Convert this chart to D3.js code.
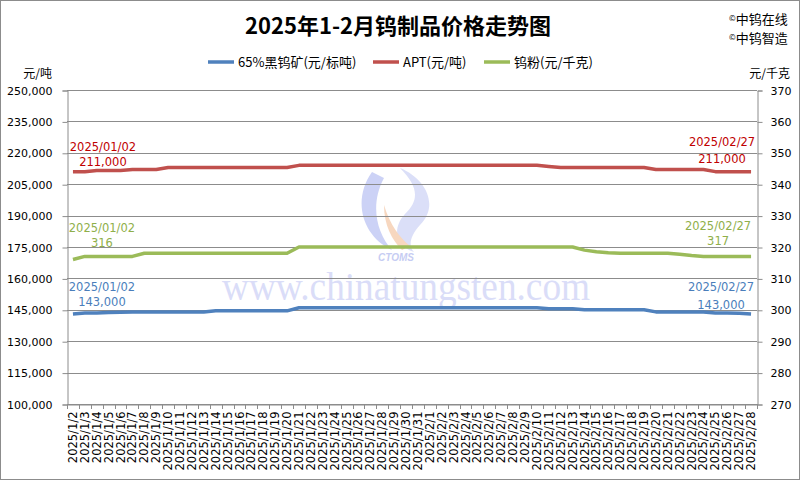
<!DOCTYPE html>
<html><head><meta charset="utf-8">
<script src="https://cdn.jsdelivr.net/npm/d3@7/dist/d3.min.js"></script>
<style>
html,body{margin:0;padding:0;background:#fff;}
svg{display:block;}
</style>
</head><body>
<svg id="chart" width="800" height="480"></svg>
<script>
const categories = [
"2025/1/2","2025/1/3","2025/1/4","2025/1/5","2025/1/6","2025/1/7","2025/1/8","2025/1/9","2025/1/10",
"2025/1/11","2025/1/12","2025/1/13","2025/1/14","2025/1/15","2025/1/16","2025/1/17","2025/1/18","2025/1/19",
"2025/1/20","2025/1/21","2025/1/22","2025/1/23","2025/1/24","2025/1/25","2025/1/26","2025/1/27","2025/1/28",
"2025/1/29","2025/1/30","2025/1/31",
"2025/2/1","2025/2/2","2025/2/3","2025/2/4","2025/2/5","2025/2/6","2025/2/7","2025/2/8","2025/2/9","2025/2/10",
"2025/2/11","2025/2/12","2025/2/13","2025/2/14","2025/2/15","2025/2/16","2025/2/17","2025/2/18","2025/2/19",
"2025/2/20","2025/2/21","2025/2/22","2025/2/23","2025/2/24","2025/2/25","2025/2/26","2025/2/27","2025/2/28"
];
// 65%黑钨矿 (元/标吨)
const wolframite = [
143000,143500,143500,143700,143800,144000,144000,144000,144000,144000,144000,144000,144500,144500,144500,144500,144500,144500,
144500,146000,146000,146000,146000,146000,146000,146000,146000,146000,146000,146000,
146000,146000,146000,146000,146000,146000,146000,146000,146000,146000,
145500,145500,145500,145000,145000,145000,145000,145000,145000,
144000,144000,144000,144000,144000,143500,143500,143300,143000
];
// APT (元/吨)
const apt = [
211000,211000,211500,211500,211500,212000,212000,212000,213000,213000,213000,213000,213000,213000,213000,213000,213000,213000,
213000,214000,214000,214000,214000,214000,214000,214000,214000,214000,214000,214000,
214000,214000,214000,214000,214000,214000,214000,214000,214000,214000,
213500,213000,213000,213000,213000,213000,213000,213000,213000,
212000,212000,212000,212000,212000,211000,211000,211000,211000
];
// 钨粉 (元/千克)
const powder = [
316,317,317,317,317,317,318,318,318,318,318,318,318,318,318,318,318,318,
318,320,320,320,320,320,320,320,320,320,320,320,
320,320,320,320,320,320,320,320,320,320,
320,320,320,319,318.5,318.2,318,318,318,
318,318,317.7,317.3,317,317,317,317,317
];
const leftTicks = [100000,115000,130000,145000,160000,175000,190000,205000,220000,235000,250000];
const rightTicks = [270,280,290,300,310,320,330,340,350,360,370];
const seriesNames = ["65%黑钨矿(元/标吨)","APT(元/吨)","钨粉(元/千克)"];
const seriesColors = ["#4F81BD","#C0504D","#9BBB59"];
const labelColors = ["#4A7EBB","#C00000","#8FAF4A"];
const startLabels = [["2025/01/02","143,000"],["2025/01/02","211,000"],["2025/01/02","316"]];
const endLabels = [["2025/02/27","143,000"],["2025/02/27","211,000"],["2025/02/27","317"]];

const svg = d3.select("#chart");
const L = 67, R = 757, T = 90, B = 404;
const x = d3.scaleBand().domain(categories).range([L, R]).padding(0);
const cx = c => x(c) + x.bandwidth()/2;
const yL = d3.scaleLinear().domain([100000, 250000]).range([B, T]);
const yR = d3.scaleLinear().domain([270, 370]).range([B, T]);
const gridCol = "#8C8C8C";
const fontNum = "'DejaVu Sans', sans-serif";
const fontCJK = "'Noto Sans CJK SC', 'Noto Sans', sans-serif";

// border
svg.append("rect").attr("x",0.5).attr("y",0.5).attr("width",799).attr("height",479)
  .attr("fill","#fff").attr("stroke","#8C8C8C");

// watermark
const wm = svg.append("g").attr("opacity",0.5);
wm.append("path").attr("d","M372,172 C352,200 362,236 392,250 C376,232 370,204 384,178 Z")
  .attr("fill","#9AA6EE");
wm.append("path").attr("d","M400,168 C425,178 440,205 420,225 C410,236 408,246 414,252 C395,246 392,228 405,214 C420,200 418,186 400,168 Z")
  .attr("fill","#B8C0F2");
wm.append("path").attr("d","M384,205 C390,225 400,238 410,246 L402,250 C392,240 384,225 384,205 Z")
  .attr("fill","#F0B080");
wm.append("text").attr("x",396).attr("y",261).attr("text-anchor","middle")
  .attr("font-family","'Liberation Sans', sans-serif").attr("font-style","italic").attr("font-weight","bold")
  .attr("font-size",10).attr("fill","#8E9BE8").text("CTOMS");
svg.append("text").attr("x",222).attr("y",300).attr("textLength",368).attr("lengthAdjust","spacingAndGlyphs")
  .attr("font-family","'Liberation Serif', serif").attr("font-size",40).attr("fill","#DADDF8")
  .text("www.chinatungsten.com");

// gridlines
svg.append("g").selectAll("line").data(leftTicks).join("line")
  .attr("x1",L).attr("x2",R).attr("y1",d=>Math.round(yL(d))+0.5).attr("y2",d=>Math.round(yL(d))+0.5)
  .attr("stroke",gridCol).attr("stroke-width",1);

// axes
const axL = svg.append("g").attr("transform",`translate(${L+0.5},0.5)`)
  .call(d3.axisLeft(yL).tickValues(leftTicks).tickFormat(d3.format(",")).tickSize(5).tickPadding(10));
const axR = svg.append("g").attr("transform",`translate(${R+0.5},0.5)`)
  .call(d3.axisRight(yR).tickValues(rightTicks).tickSize(5).tickPadding(8));
[axL, axR].forEach(a => {
  a.select(".domain").attr("stroke",gridCol);
  a.selectAll(".tick line").attr("stroke",gridCol);
  a.selectAll(".tick text").attr("font-family",fontNum).attr("font-size",11).attr("fill","#000");
});
// x axis
const axX = svg.append("g").attr("transform",`translate(0,${B+0.5})`)
  .call(d3.axisBottom(x).tickSize(0).tickPadding(6));
axX.select(".domain").attr("stroke",gridCol);
axX.selectAll(".tick text")
  .attr("font-family",fontNum).attr("font-size",11.5).attr("fill","#000")
  .attr("text-anchor","end").attr("transform","rotate(-90)")
  .attr("x",-7).attr("y",0).attr("dy","0.35em");
svg.append("g").selectAll("line").data(categories.concat(["__end"])).join("line")
  .attr("x1",d=>Math.round(d==="__end"?R:x(d))+0.5).attr("x2",d=>Math.round(d==="__end"?R:x(d))+0.5)
  .attr("y1",B).attr("y2",B+5).attr("stroke",gridCol);

// lines
const data = [wolframite, apt, powder];
const scales = [yL, yL, yR];
data.forEach((vals,k) => {
  const line = d3.line().x((v,i)=>cx(categories[i])).y(v=>scales[k](v));
  svg.append("path").datum(vals).attr("d",line).attr("fill","none")
    .attr("stroke",seriesColors[k]).attr("stroke-width",3.5)
    .attr("stroke-linejoin","round").attr("stroke-linecap","butt");
});

// data labels (offsets above the point: [date line, value line] in px)
const startOff = [[23,8],[21,6],[28,13]];
const endOff = [[23,5],[26,9],[26,11]];
const addLabel = (k, idx, lines, anchorX, off) => {
  const yv = scales[k](data[k][idx]);
  const g = svg.append("g").attr("font-family",fontNum).attr("font-size",11.5).attr("fill",labelColors[k])
    .attr("text-anchor","middle");
  g.append("text").attr("x",anchorX).attr("y",yv-off[0]).text(lines[0]);
  g.append("text").attr("x",anchorX).attr("y",yv-off[1]).text(lines[1]);
};
const firstX = cx(categories[0]), lastX = cx(categories[categories.length-1]);
const startDX = [29, 30, 29], endDX = [-30, -29, -33];
[0,1,2].forEach(k => {
  addLabel(k, 0, startLabels[k], firstX+startDX[k], startOff[k]);
  addLabel(k, categories.length-1, endLabels[k], lastX+endDX[k], endOff[k]);
});

// title
svg.append("text").attr("x",398).attr("y",34).attr("text-anchor","middle")
  .attr("font-family",fontCJK).attr("font-weight","bold").attr("font-size",22).attr("fill","#000")
  .text("2025年1-2月钨制品价格走势图");

// copyright
["中钨在线","中钨智造"].forEach((t,i) => {
  const tx = svg.append("text").attr("x",729).attr("y",24+i*19).attr("font-family",fontCJK)
    .attr("font-size",13).attr("fill","#000");
  tx.append("tspan").attr("font-size",8).attr("dy",-3).text("©");
  tx.append("tspan").attr("dy",3).text(t);
});

// legend
const legX = [208, 373, 484];
seriesNames.forEach((n,k) => {
  svg.append("line").attr("x1",legX[k]).attr("x2",legX[k]+26).attr("y1",62).attr("y2",62)
    .attr("stroke",seriesColors[k]).attr("stroke-width",3.5);
  svg.append("text").attr("x",legX[k]+30).attr("y",62).attr("dy","0.35em")
    .attr("font-family",fontCJK).attr("font-size",13).attr("fill","#000").text(n);
});

// units
svg.append("text").attr("x",52).attr("y",74).attr("dy","0.35em").attr("text-anchor","end")
  .attr("font-family",fontCJK).attr("font-size",12).attr("fill","#000").text("元/吨");
svg.append("text").attr("x",790).attr("y",74).attr("dy","0.35em").attr("text-anchor","end")
  .attr("font-family",fontCJK).attr("font-size",12).attr("fill","#000").text("元/千克");
</script>
</body></html>
